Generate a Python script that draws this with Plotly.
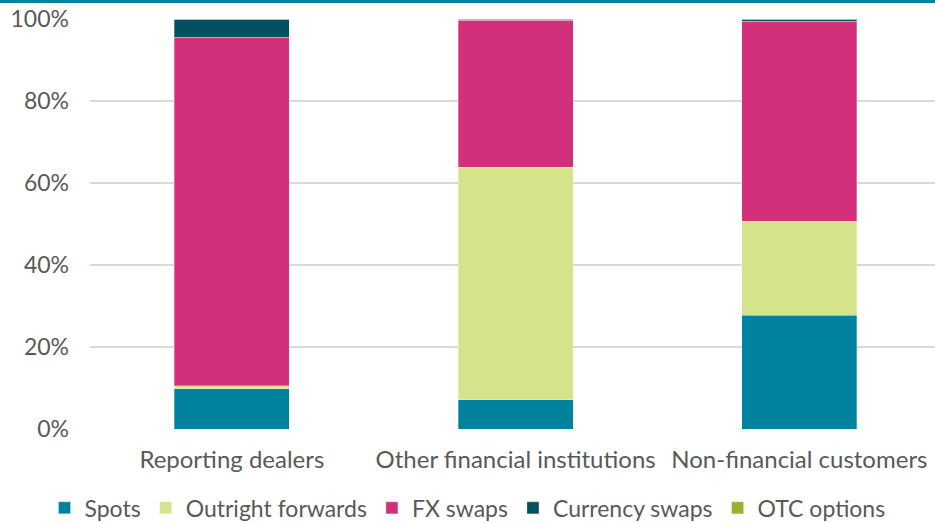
import plotly.graph_objects as go

categories = ["Reporting dealers", "Other financial institutions", "Non-financial customers"]
spots = [9.8, 7.1, 27.8]
outright_forwards = [0.7, 56.8, 22.9]
fx_swaps = [85.1, 35.8, 48.8]
currency_swaps = [4.3, 0.2, 0.4]
otc_options = [0.1, 0.1, 0.1]
y_ticks = [0, 20, 40, 60, 80, 100]
y_tick_labels = ["0%", "20%", "40%", "60%", "80%", "100%"]

series = [
    ("Spots", spots, "#00829F"),
    ("Outright forwards", outright_forwards, "#D5E38B"),
    ("FX swaps", fx_swaps, "#D2307A"),
    ("Currency swaps", currency_swaps, "#00505F"),
    ("OTC options", otc_options, "#9AB22B"),
]

fig = go.Figure()
for name, vals, col in series:
    fig.add_trace(go.Bar(
        x=categories, y=vals, name=name,
        marker=dict(color=col, line=dict(color="rgba(255,255,255,0.5)", width=0.6)),
    ))

fig.update_layout(
    barmode="stack",
    bargap=0.595,
    width=935, height=523,
    margin=dict(l=90, r=0, t=19, b=94, autoexpand=False),
    plot_bgcolor="white", paper_bgcolor="white",
    font=dict(family="Lato", size=23, color="#595959"),
    showlegend=True,
    legend=dict(orientation="h", x=0.5, xanchor="center", xref="container",
                y=-0.14, yanchor="top", font=dict(size=23, color="#595959"),
                traceorder="normal", itemwidth=30, tracegroupgap=0),
    yaxis=dict(range=[0, 100], tickvals=y_ticks, ticktext=y_tick_labels,
               showgrid=True, gridcolor="#D9D9D9", gridwidth=2,
               zeroline=False, ticks="", automargin=False, ticklabelstandoff=20,
               tickfont=dict(size=23, color="#595959")),
    xaxis=dict(showline=False, ticks="", tickangle=0, automargin=False,
               range=[-0.5, 2.478], ticklabelstandoff=14,
               tickfont=dict(size=24, color="#595959")),
)
fig.add_shape(type="rect", xref="paper", yref="paper",
              x0=-90 / 845, x1=1.0, y0=(429 - 3) / 410, y1=429 / 410,
              fillcolor="#0084A0", line=dict(width=0), layer="above")
fig.write_html("out.html")
